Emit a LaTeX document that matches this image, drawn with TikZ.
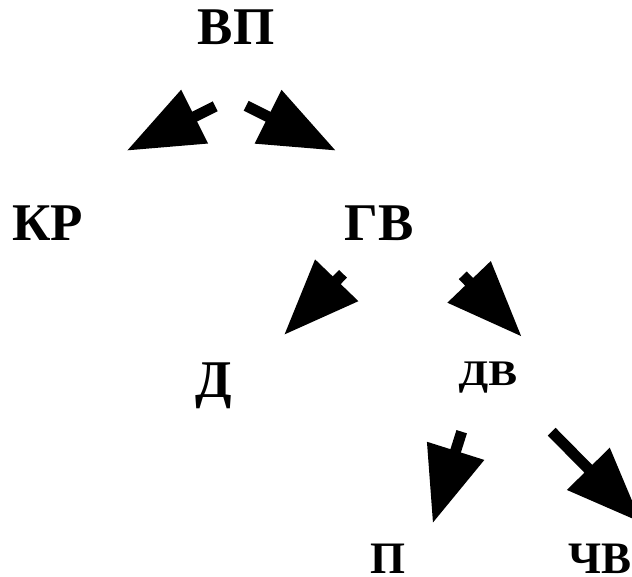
\documentclass[tikz,border=0pt]{standalone}
\usepackage{fontspec}
\usepackage{graphicx}
\setmainfont{Liberation Serif}
\usetikzlibrary{arrows.meta}
\begin{document}
\begin{tikzpicture}[x=1pt,y=-1pt,
  lbl/.style={anchor=base,inner sep=0pt,font=\bfseries\fontsize{53}{60}\selectfont},
  lblmid/.style={lbl,font=\bfseries\fontsize{45}{52}\selectfont},
  lblsmall/.style={lbl,font=\bfseries\fontsize{36}{42}\selectfont},
  bigarrow/.style={line width=11pt,line cap=butt,-{Triangle[length=76pt,width=57pt]}}]
\useasboundingbox (0,0) rectangle (632,577);
% labels
\node[lbl] (vp) at (236,45) {ВП};
\node[lbl] (kr) at (47.5,241) {КР};
\node[lbl] (gv) at (379,241) {ГВ};
\node[lbl] (d) at (213.5,397) {Д};
\node[lblsmall] (dv) at (488,385) {\scalebox{1.2}[1]{ДВ}};
\node[lblmid] (p) at (388,573) {П};
\node[lblmid] (chv) at (600,573) {ЧВ};
% arrow end points
\coordinate (a1s) at (215.2,106.3); \coordinate (a1t) at (126.7,150.7);
\coordinate (a2s) at (246.2,105.8); \coordinate (a2t) at (336,150.7);
\coordinate (a3s) at (343,273.8);   \coordinate (a3t) at (284,335);
\coordinate (a4s) at (462.8,275.3); \coordinate (a4t) at (521.7,336.7);
\coordinate (a5s) at (461.7,431.7); \coordinate (a5t) at (432.7,523.3);
\coordinate (a6s) at (551.7,431.7); \coordinate (a6t) at (641.7,522.9);
\draw[bigarrow] (a1s) -- (a1t);
\draw[bigarrow] (a2s) -- (a2t);
\draw[bigarrow] (a3s) -- (a3t);
\draw[bigarrow] (a4s) -- (a4t);
\draw[bigarrow] (a5s) -- (a5t);
\draw[bigarrow] (a6s) -- (a6t);
\end{tikzpicture}
\end{document}
